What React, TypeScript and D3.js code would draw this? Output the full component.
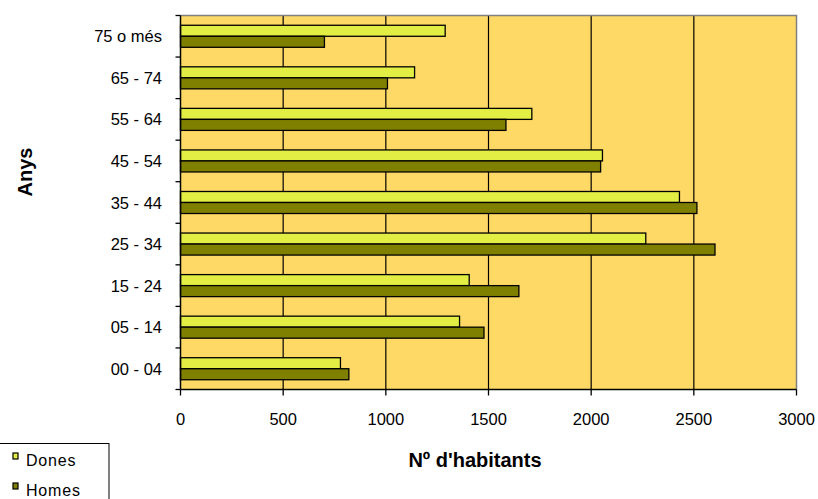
import React from "react";
import * as d3 from "d3";

const categories = ["75 o més", "65 - 74", "55 - 64", "45 - 54", "35 - 44", "25 - 34", "15 - 24", "05 - 14", "00 - 04"];
const dones = [1289, 1140, 1711, 2055, 2430, 2266, 1406, 1359, 779];
const homes = [701, 1008, 1585, 2046, 2515, 2603, 1648, 1478, 820];
const xTicks = [0, 500, 1000, 1500, 2000, 2500, 3000];
const seriesNames = ["Dones", "Homes"];
const seriesColors = ["#e3ee45", "#7f7f00"];

const W = 818, H = 499;
const L = 180.5, R = 796.5, T = 15.5, B = 389.5;
const font = "Arial, 'Liberation Sans', sans-serif";

export default function App() {
  const x = d3.scaleLinear().domain([0, 3000]).range([L, R]);
  const y = d3.scaleBand<string>().domain(categories).range([T, B]).paddingInner(0.47).paddingOuter(0.235);
  const sub = d3.scaleBand<string>().domain(seriesNames).range([0, y.bandwidth()]);
  const step = y.step();
  const values = [dones, homes];
  return (
    <svg width={W} height={H} style={{ position: "absolute", left: 0, top: 0 }} fontFamily={font}>
      <rect x={L} y={T} width={R - L} height={B - T} fill="#ffd966" />
      {xTicks.slice(1, -1).map((t) => (
        <line key={t} x1={x(t)} x2={x(t)} y1={T} y2={B} stroke="#000" strokeWidth={1.2} />
      ))}
      <path d={`M${L},${T}H${R}V${B}`} fill="none" stroke="#808080" strokeWidth={1.5} />
      {categories.map((c, i) =>
        seriesNames.map((s, j) => (
          <rect
            key={c + s}
            x={x(0)}
            y={(y(c) as number) + (sub(s) as number)}
            width={x(values[j][i]) - x(0)}
            height={sub.bandwidth()}
            fill={seriesColors[j]}
            stroke="#000"
            strokeWidth={1.3}
          />
        ))
      )}
      <line x1={L} x2={L} y1={T} y2={B} stroke="#000" strokeWidth={1.5} />
      <line x1={L} x2={R} y1={B} y2={B} stroke="#000" strokeWidth={1.5} />
      {d3.range(categories.length + 1).map((k) => (
        <line key={k} x1={L - 5} x2={L} y1={T + k * step} y2={T + k * step} stroke="#000" strokeWidth={1.3} />
      ))}
      {xTicks.map((t) => (
        <g key={t}>
          <line x1={x(t)} x2={x(t)} y1={B} y2={B + 6} stroke="#000" strokeWidth={1.3} />
          <text x={x(t)} y={425} textAnchor="middle" fontSize={16.5} fill="#000">{t}</text>
        </g>
      ))}
      {categories.map((c) => (
        <text key={c} x={162} y={(y(c) as number) + y.bandwidth() / 2 + 6} textAnchor="end" fontSize={16.5} fill="#000">{c}</text>
      ))}
      <text x={475} y={467} textAnchor="middle" fontSize={20} fontWeight="bold" fill="#000">Nº d'habitants</text>
      <text transform="translate(32,172) rotate(-90)" textAnchor="middle" fontSize={20} fontWeight="bold" fill="#000">Anys</text>
      <rect x={-1} y={443.5} width={110} height={70} fill="#fff" stroke="#000" strokeWidth={1} />
      {seriesNames.map((s, j) => (
        <g key={s}>
          <rect x={13} y={456 + j * 30 - 3} width={5} height={6} fill={seriesColors[j]} stroke="#000" strokeWidth={1.2} />
          <text x={26} y={460 + j * 30 + 6} fontSize={16} letterSpacing={0.8} fill="#000">{s}</text>
        </g>
      ))}
    </svg>
  );
}
